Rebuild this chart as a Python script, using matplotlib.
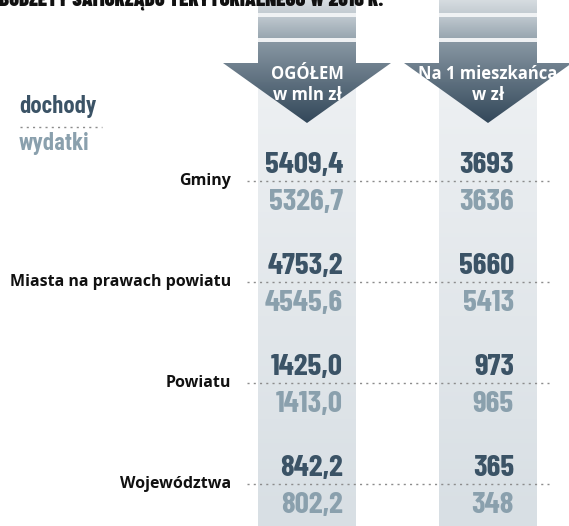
import matplotlib
matplotlib.use("Agg")
import matplotlib.pyplot as plt
import numpy as np
from matplotlib.colors import LinearSegmentedColormap
from matplotlib.patches import Polygon

# dane
kategorie = ["Gminy", "Miasta na prawach powiatu", "Powiatu", "Województwa"]
dochody_ogolem = ["5409,4", "4753,2", "1425,0", "842,2"]
wydatki_ogolem = ["5326,7", "4545,6", "1413,0", "802,2"]
dochody_mieszk = ["3693", "5660", "973", "365"]
wydatki_mieszk = ["3636", "5413", "965", "348"]
naglowki = [("OGÓŁEM", "w mln zł"), ("Na 1 mieszkańca", "w zł")]
tytul = "BUDŻETY SAMORZĄDU TERYTORIALNEGO W 2016 R."

W, H = 569, 526
DARK = "#3b5366"
LIGHT = "#8aa0ad"
NUMF = ["Barlow Condensed", "DejaVu Sans"]
LEGF = ["Roboto Condensed", "DejaVu Sans"]
SANS = ["Open Sans", "DejaVu Sans"]

fig = plt.figure(figsize=(W / 100, H / 100), dpi=100)
ax = fig.add_axes([0, 0, 1, 1])
ax.set_xlim(0, W)
ax.set_ylim(H, 0)
ax.axis("off")


def gradient(x0, x1, y0, y1, c0, c1, clip=None, z=1):
    cmap = LinearSegmentedColormap.from_list("g", [c0, c1])
    img = ax.imshow(np.linspace(0, 1, 64).reshape(-1, 1), cmap=cmap, aspect="auto",
                    extent=(x0, x1, y1, y0), interpolation="bicubic", zorder=z)
    if clip is not None:
        img.set_clip_path(clip)
    return img


cols = [(258, 356), (439, 537)]
for (x0, x1), (h1, h2) in zip(cols, naglowki):
    cx = (x0 + x1) / 2
    # tlo kolumny
    gradient(x0, x1, 0, H, "#f1f3f5", "#d8dfe4", z=1)
    # paski u gory
    gradient(x0, x1, 0, 13, "#d6dce0", "#c4ccd2", z=2)
    gradient(x0, x1, 17, 38, "#bec7ce", "#98a6b0", z=2)
    # strzalka
    pts = [(x0, 42), (x1, 42), (x1, 63), (cx + 84, 63), (cx, 123), (cx - 84, 63), (x0, 63)]
    poly = Polygon(pts, closed=True, facecolor="none", edgecolor="none", zorder=3)
    ax.add_patch(poly)
    gradient(cx - 84, cx + 84, 42, 123, "#8796a2", "#33485a", clip=poly, z=3)
    ax.text(cx, 79, h1, ha="center", va="baseline", color="white", fontsize=12,
            fontweight="bold", family=SANS, zorder=4)
    ax.text(cx, 100, h2, ha="center", va="baseline", color="white", fontsize=12,
            fontweight="bold", family=SANS, zorder=4)

# tytul (uciety u gory)
ax.text(-1, 6, tytul, ha="left", va="baseline", fontsize=15, fontweight=900,
        family=NUMF, color="#111111", zorder=5)

# legenda
ax.text(19, 113, "dochody", ha="left", va="baseline", fontsize=16.5, fontweight="bold",
        family=LEGF, color=DARK)
ax.plot([20, 102], [127, 127], color="#8c8c8c", lw=1.0, ls=(0, (1.5, 3)))
ax.text(19, 150, "wydatki", ha="left", va="baseline", fontsize=16.5, fontweight="bold",
        family=LEGF, color=LIGHT)

# wiersze
row_y = 181 + 101 * np.arange(len(kategorie))
for i, y in enumerate(row_y):
    ax.text(231, y + 4, kategorie[i], ha="right", va="baseline", fontsize=11.5,
            fontweight="bold", family=SANS, color="#111111", zorder=5)
    ax.plot([247, 549], [y, y], color="#8c8c8c", lw=1.0, ls=(0, (1.5, 3)), zorder=5)
    for xr, top, bot in [(343, dochody_ogolem, wydatki_ogolem),
                         (514, dochody_mieszk, wydatki_mieszk)]:
        ax.text(xr, y - 8, top[i], ha="right", va="baseline", fontsize=22.5,
                fontweight="bold", family=NUMF, color=DARK, zorder=5)
        ax.text(xr, y + 29, bot[i], ha="right", va="baseline", fontsize=22.5,
                fontweight="bold", family=NUMF, color=LIGHT, zorder=5)

fig.savefig("out.png", dpi=100)
